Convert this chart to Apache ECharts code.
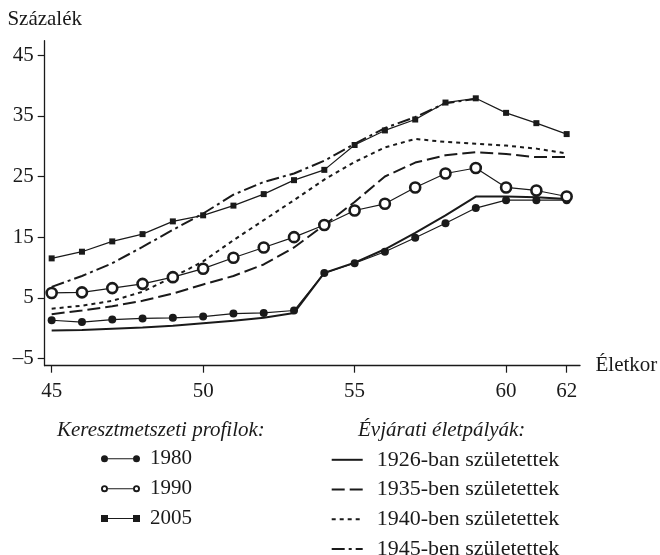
<!DOCTYPE html>
<html>
<head>
<meta charset="utf-8">
<script src="https://cdn.jsdelivr.net/npm/echarts@6/dist/echarts.min.js"></script>
<style>
html,body{margin:0;padding:0;background:#fff;}
#chart{width:660px;height:555px;}
</style>
</head>
<body>
<div id="chart"></div>
<script>
// ---- data ----
const ages = [45,46,47,48,49,50,51,52,53,54,55,56,57,58,59,60,61,62];
const p1980 = [1.3,1.0,1.4,1.6,1.7,1.9,2.4,2.5,2.9,9.1,10.7,12.6,14.9,17.3,19.8,21.1,21.1,21.1];
const p1990 = [5.8,5.9,6.6,7.3,8.4,9.8,11.6,13.3,15.0,17.0,19.4,20.5,23.2,25.5,26.4,23.2,22.7,21.7];
const p2005 = [11.5,12.6,14.3,15.5,17.6,18.6,20.2,22.1,24.4,26.1,30.2,32.6,34.4,37.2,37.9,35.5,33.8,32.0];
const c1926 = [-0.4,-0.3,-0.1,0.1,0.4,0.8,1.2,1.7,2.5,9.1,10.8,13.0,15.7,18.6,21.7,21.7,21.6,21.3];
const c1935 = [2.3,2.9,3.6,4.5,5.7,7.2,8.6,10.5,13.3,17.0,20.8,25.0,27.3,28.5,29.0,28.7,28.2,28.2];
const c1940 = [3.2,3.7,4.5,6.0,8.4,11.0,14.5,17.8,21.1,24.5,27.4,29.8,31.2,30.7,30.4,30.1,29.6,28.8];
const c1945 = [6.8,8.6,10.7,13.4,16.2,18.9,22.0,24.1,25.5,27.6,30.4,33.0,34.8,37.1,37.8,null,null,null];
const xTicks = [45,50,55,60,62];
const yTicks = [-5,5,15,25,35,45];
const profileNames = ['1980','1990','2005'];
const cohortNames = ['1926-ban születettek','1935-ben születettek','1940-ben születettek','1945-ben születettek'];
const yTitle = 'Százalék';
const xTitle = 'Életkor';
const leftLegendTitle = 'Keresztmetszeti profilok:';
const rightLegendTitle = 'Évjárati életpályák:';

// ---- chart ----
const INK = '#1a1a1a';
const FONT = '"Liberation Serif", "DejaVu Serif", serif';
const pairs = arr => ages.map((a, i) => [a, arr[i]]);

const cohortLine = (name, arr, type) => ({
  name, type: 'line', data: pairs(arr), symbol: 'none', connectNulls: false,
  lineStyle: { color: INK, width: 2, type },
  itemStyle: { color: INK }, z: 2
});

const iconFilled = 'path://M0,3.5 A3.5,3.5 0 1,1 7,3.5 A3.5,3.5 0 1,1 0,3.5 Z M7,3 H32 V4 H7 Z M32,3.5 A3.5,3.5 0 1,1 39,3.5 A3.5,3.5 0 1,1 32,3.5 Z';
const iconRing = 'path://M0,3.5 A3.5,3.5 0 1,1 7,3.5 A3.5,3.5 0 1,1 0,3.5 Z M1.9,3.5 A1.6,1.6 0 1,0 5.1,3.5 A1.6,1.6 0 1,0 1.9,3.5 Z M7,3 H32 V4 H7 Z M32,3.5 A3.5,3.5 0 1,1 39,3.5 A3.5,3.5 0 1,1 32,3.5 Z M33.9,3.5 A1.6,1.6 0 1,0 37.1,3.5 A1.6,1.6 0 1,0 33.9,3.5 Z';
const iconSquare = 'path://M0,0 H7 V7 H0 Z M7,3 H32 V4 H7 Z M32,0 H39 V7 H32 Z';

const chart = echarts.init(document.getElementById('chart'), null, { renderer: 'canvas' });
chart.setOption({
  animation: false,
  backgroundColor: '#fff',
  textStyle: { fontFamily: FONT, color: INK },
  title: [
    { text: leftLegendTitle, left: 52, top: 415,
      textStyle: { fontFamily: FONT, fontSize: 21, fontStyle: 'italic', fontWeight: 'normal', color: INK } },
    { text: rightLegendTitle, left: 353, top: 415,
      textStyle: { fontFamily: FONT, fontSize: 21, fontStyle: 'italic', fontWeight: 'normal', color: INK } }
  ],
  grid: { left: 44.7, right: 80, top: 40.7, bottom: 189.3, containLabel: false, outerBoundsMode: 'none' },
  xAxis: {
    type: 'value', min: 44.77, max: 62.44,
    name: xTitle, nameLocation: 'end', nameGap: 15.5,
    nameTextStyle: { fontFamily: FONT, fontSize: 21, color: INK },
    axisLine: { show: true, onZero: false, lineStyle: { color: INK, width: 1.3 } },
    axisTick: { show: true, inside: false, length: 7, customValues: xTicks, lineStyle: { color: INK, width: 1.2 } },
    axisLabel: { customValues: xTicks, margin: 15, fontFamily: FONT, fontSize: 21, color: INK },
    splitLine: { show: false }
  },
  yAxis: {
    type: 'value', min: -6.2, max: 47.4,
    name: yTitle, nameLocation: 'end', nameGap: 11,
    nameTextStyle: { fontFamily: FONT, fontSize: 21, color: INK },
    axisLine: { show: true, onZero: false, lineStyle: { color: INK, width: 1.3 } },
    axisTick: { show: true, inside: false, length: 7, customValues: yTicks, lineStyle: { color: INK, width: 1.2 } },
    axisLabel: { customValues: yTicks, margin: 11, fontFamily: FONT, fontSize: 21, color: INK,
      formatter: v => (v < 0 ? '–' + Math.abs(v) : String(v)) },
    splitLine: { show: false }
  },
  legend: [
    {
      data: [
        { name: profileNames[0], icon: iconFilled },
        { name: profileNames[1], icon: iconRing },
        { name: profileNames[2], icon: iconSquare }
      ],
      orient: 'vertical', left: 101, top: 447.8, height: 120, padding: 0,
      itemWidth: 39, itemHeight: 7, itemGap: 7.9,
      selectedMode: false,
      itemStyle: { color: INK, borderWidth: 0 },
      textStyle: { fontFamily: FONT, fontSize: 21, color: INK, lineHeight: 22, padding: [0,0,0,5] }
    },
    {
      data: cohortNames,
      orient: 'vertical', left: 330.7, top: 448.8, height: 150, padding: 0,
      itemWidth: 31, itemHeight: 14, itemGap: 7.7,
      selectedMode: false,
      itemStyle: { opacity: 0, borderWidth: 0 },
      textStyle: { fontFamily: FONT, fontSize: 22, color: INK, lineHeight: 22, padding: [0,0,0,9] }
    }
  ],
  series: [
    cohortLine(cohortNames[0], c1926, 'solid'),
    cohortLine(cohortNames[1], c1935, [13,5]),
    cohortLine(cohortNames[2], c1940, [4,4]),
    cohortLine(cohortNames[3], c1945, [13,4,3,4]),
    {
      name: profileNames[0], type: 'line', data: pairs(p1980),
      symbol: 'circle', symbolSize: 8,
      lineStyle: { color: INK, width: 1.2 }, itemStyle: { color: INK }, z: 3
    },
    {
      name: profileNames[1], type: 'line', data: pairs(p1990),
      symbol: 'circle', symbolSize: 10,
      lineStyle: { color: INK, width: 1.2 },
      itemStyle: { color: '#fff', borderColor: INK, borderWidth: 2.6 }, z: 4
    },
    {
      name: profileNames[2], type: 'line', data: pairs(p2005),
      symbol: 'rect', symbolSize: 6,
      lineStyle: { color: INK, width: 1.2 }, itemStyle: { color: INK }, z: 3
    }
  ]
});
</script>
</body>
</html>
